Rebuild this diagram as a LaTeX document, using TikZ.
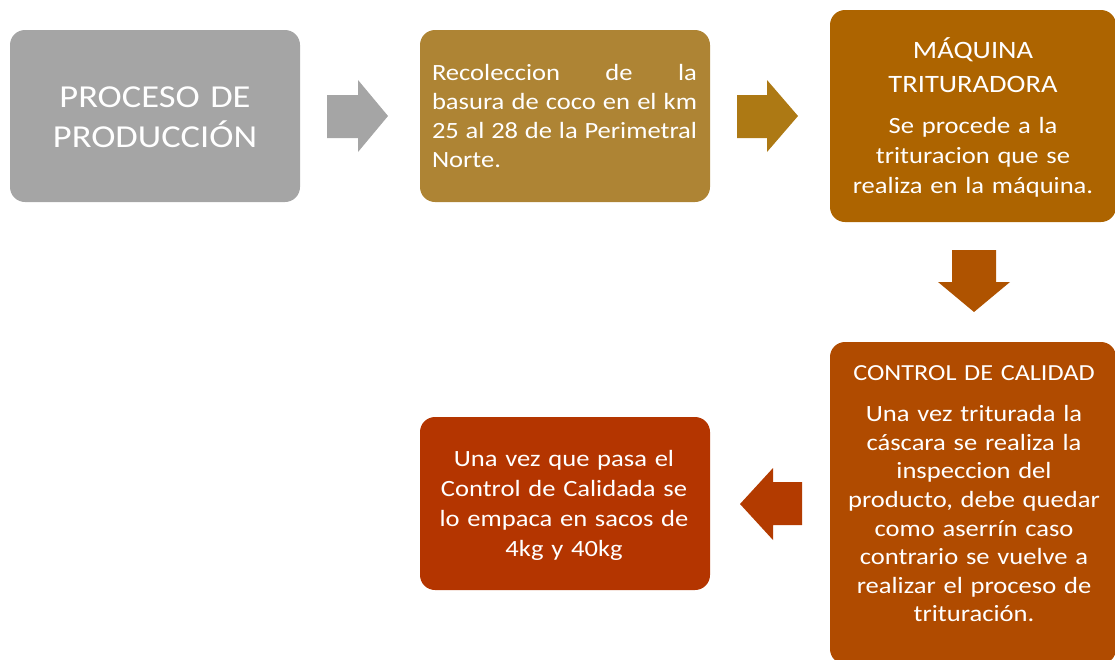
\documentclass[tikz,border=0pt]{standalone}
\usepackage{fontspec}
\setmainfont{Carlito}[FakeStretch=1.14]
\definecolor{cgray}{RGB}{165,165,165}
\definecolor{cbox2}{RGB}{174,132,52}
\definecolor{carr1}{RGB}{165,165,165}
\definecolor{carr2}{RGB}{173,121,20}
\definecolor{cbox3}{RGB}{173,100,0}
\definecolor{carr3}{RGB}{175,83,0}
\definecolor{cbox4}{RGB}{176,75,0}
\definecolor{carr4}{RGB}{179,59,0}
\definecolor{cbox5}{RGB}{180,53,0}
\newcommand\jline[1]{\leavevmode\hbox to 265pt{#1}}
\begin{document}
\begin{tikzpicture}[x=1pt,y=-1pt,
  box/.style={rectangle, rounded corners=15pt, inner sep=0pt, draw=none},
  txt/.style={text=white, inner sep=0pt, anchor=base, execute at begin node=\centering},
  txtl/.style={text=white, inner sep=0pt, anchor=base, execute at begin node=\raggedright},
  blockarrow/.style={draw=none}]
\useasboundingbox (0,0) rectangle (1115,659);
\clip (0,0) rectangle (1115,659);
% boxes
\node[box, fill=cgray, minimum width=290pt, minimum height=172pt] (b1) at (155,116) {};
\node[box, fill=cbox2, minimum width=290pt, minimum height=172pt] (b2) at (565,116) {};
\node[box, fill=cbox3, minimum width=286pt, minimum height=212pt] (b3) at (973,116) {};
\node[box, fill=cbox4, minimum width=286pt, minimum height=322pt] (b4) at (973,503) {};
\node[box, fill=cbox5, minimum width=290pt, minimum height=173pt] (b5) at (565,503.5) {};
% texts
\node[txt, text width=280pt, font=\fontsize{32}{40}\selectfont] (t1) at (155,107) {PROCESO DE\\PRODUCCIÓN};
\node[txtl, text width=265pt, font=\fontsize{23.3}{29.3}\selectfont] (t2) at (564.5,80)
  {\jline{Recoleccion\hfill de\hfill la}\\\jline{basura\hfill de\hfill coco\hfill en\hfill el\hfill km}\\\jline{25\hfill al\hfill 28\hfill de\hfill la\hfill Perimetral}\\Norte.};
\node[txt, text width=285pt, font=\fontsize{25}{34}\selectfont] (t3a) at (973,58) {MÁQUINA\\TRITURADORA};
\node[txt, text width=285pt, font=\fontsize{23.3}{30}\selectfont] (t3b) at (973,133) {Se procede a la\\trituracion que se\\realiza en la máquina.};
\node[txt, text width=285pt, font=\fontsize{23}{30}\selectfont] (t4a) at (974,380) {CONTROL DE CALIDAD};
\node[txt, text width=285pt, font=\fontsize{23.3}{28.6}\selectfont] (t4b) at (974,421.7) {Una vez triturada la\\cáscara se realiza la\\inspeccion del\\producto, debe quedar\\como aserrín caso\\contrario se vuelve a\\realizar el proceso de\\trituración.};
\node[txt, text width=285pt, font=\fontsize{23.3}{30}\selectfont] (t5) at (564,466.7) {Una vez que pasa el\\Control de Calidada se\\lo empaca en sacos de\\4kg y 40kg};
% block arrows
\fill[blockarrow, carr1] (327,95) -- (358,95) -- (358,80) -- (388,116) -- (358,152) -- (358,138) -- (327,138) -- cycle;
\fill[blockarrow, carr2] (737,95) -- (767,95) -- (767,80) -- (798,116) -- (767,152) -- (767,138) -- (737,138) -- cycle;
\fill[blockarrow, carr3] (952,250) -- (996,250) -- (996,282) -- (1010,282) -- (974,312) -- (938,282) -- (952,282) -- cycle;
\fill[blockarrow, carr4] (802,482) -- (773,482) -- (773,468) -- (740,504) -- (773,540) -- (773,525) -- (802,525) -- cycle;
\end{tikzpicture}
\end{document}
